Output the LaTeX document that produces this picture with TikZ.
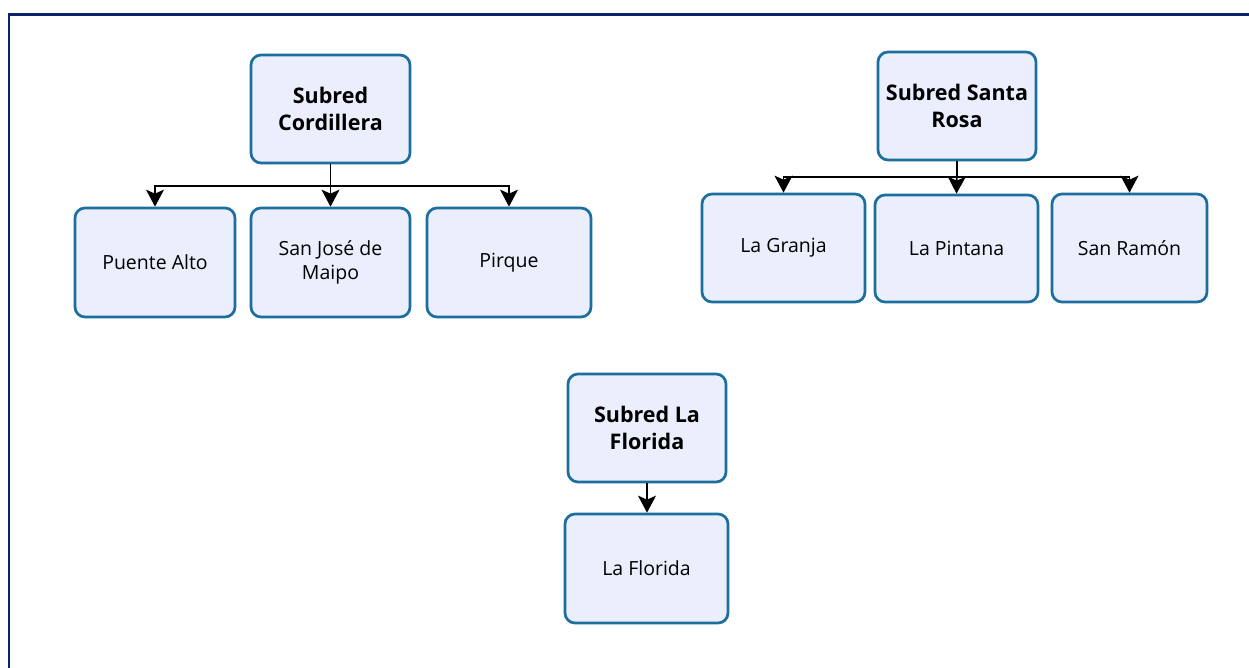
\documentclass[tikz,border=0pt]{standalone}
\usepackage{fontspec}
\setmainfont{Open Sans}
\usetikzlibrary{arrows.meta}
\definecolor{boxfill}{HTML}{EBEEFC}
\definecolor{boxdraw}{HTML}{1C6E9C}
\definecolor{frame}{HTML}{0B2468}
\tikzset{
  leaf/.style={draw=boxdraw, fill=boxfill, line width=2.7pt, rounded corners=10pt,
    align=center, inner sep=2pt, font=\fontsize{19.5}{24}\selectfont},
  head/.style={leaf, font=\fontsize{21.5}{26.5}\selectfont\bfseries},
  conn/.style={draw=black, line width=1.6pt, -{Stealth[length=17pt,width=18pt,inset=4pt]}}
}
\begin{document}
\begin{tikzpicture}[x=1pt,y=-1pt]
\useasboundingbox (0,0) rectangle (1249,668);
\fill[white] (0,0) rectangle (1249,668);
\draw[frame, line width=2.5pt] (9,668) -- (9,14.5) -- (1249,14.5);

% Cordillera
\node[head, minimum width=159pt, minimum height=108pt] (cord) at (330.5,109) {Subred\\Cordillera};
\node[leaf, minimum width=160pt, minimum height=109pt] (pa) at (155,262.5) {Puente Alto};
\node[leaf, minimum width=159pt, minimum height=109pt] (sjm) at (330.5,262.5) {San José de\\Maipo};
\node[leaf, minimum width=164pt, minimum height=109pt] (pir) at (509,262.5) {Pirque};
\coordinate (bus1) at (0,186);
\draw[conn] (cord.south) -- (cord.south |- bus1) -| (pa.north);
\draw[conn] (cord.south) -- (sjm.north);
\draw[conn] (cord.south) -- (cord.south |- bus1) -| (pir.north);

% Santa Rosa
\node[head, minimum width=158pt, minimum height=108pt] (sr) at (957,106) {Subred Santa\\Rosa};
\node[leaf, minimum width=163pt, minimum height=108pt] (lg) at (783.5,248) {La Granja};
\node[leaf, minimum width=163pt, minimum height=107pt] (lp) at (956.5,248.5) {La Pintana};
\node[leaf, minimum width=155pt, minimum height=108pt] (sra) at (1129.5,248) {San Ramón};
\coordinate (bus2) at (0,177);
\draw[conn] (sr.south) -- (sr.south |- bus2) -| (lg.north);
\draw[conn] (sr.south) -- (lp.north);
\draw[conn] (sr.south) -- (sr.south |- bus2) -| (sra.north);

% La Florida
\node[head, minimum width=158pt, minimum height=108pt] (lfs) at (647,428) {Subred La\\Florida};
\node[leaf, minimum width=163pt, minimum height=109pt] (lf) at (646.5,568.5) {La Florida};
\draw[conn] (lfs.south) -- (lfs.south |- lf.north);
\end{tikzpicture}
\end{document}
